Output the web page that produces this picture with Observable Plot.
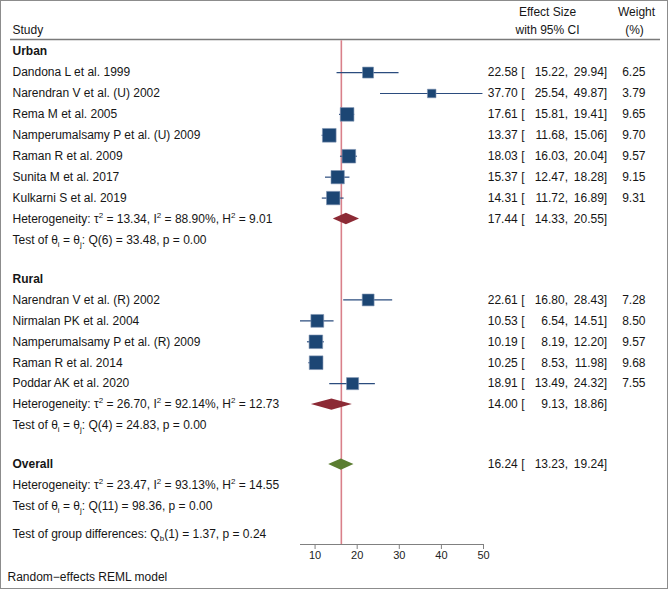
<!DOCTYPE html>
<html><head><meta charset="utf-8">
<script src="https://cdn.jsdelivr.net/npm/d3@7"></script>
<script src="https://cdn.jsdelivr.net/npm/@observablehq/plot@0.6"></script>
<style>
body{margin:0;background:#fff;}
#wrap{position:relative;width:668px;height:589px;overflow:hidden;}
#border{position:absolute;left:0;top:0;width:668px;height:589px;box-sizing:border-box;border:1px solid #8c8c8c;pointer-events:none;}
#wrap svg{display:block;}
</style></head><body>
<div id="wrap"><div id="border"></div></div>
<script>
// ---------- data ----------
const urbanStudies = ["Dandona L et al. 1999","Narendran V et al. (U) 2002","Rema M et al. 2005","Namperumalsamy P et al. (U) 2009","Raman R et al. 2009","Sunita M et al. 2017","Kulkarni S et al. 2019"];
const urbanES = [22.58,37.70,17.61,13.37,18.03,15.37,14.31];
const urbanLo = [15.22,25.54,15.81,11.68,16.03,12.47,11.72];
const urbanHi = [29.94,49.87,19.41,15.06,20.04,18.28,16.89];
const urbanW  = [6.25,3.79,9.65,9.70,9.57,9.15,9.31];

const ruralStudies = ["Narendran V et al. (R) 2002","Nirmalan PK et al. 2004","Namperumalsamy P et al. (R) 2009","Raman R et al. 2014","Poddar AK et al. 2020"];
const ruralES = [22.61,10.53,10.19,10.25,18.91];
const ruralLo = [16.80,6.54,8.19,8.53,13.49];
const ruralHi = [28.43,14.51,12.20,11.98,24.32];
const ruralW  = [7.28,8.50,9.57,9.68,7.55];

const groupNames = ["Urban","Rural","Overall"];
const groupES  = [17.44,14.00,16.24];
const groupLo  = [14.33,9.13,13.23];
const groupHi  = [20.55,18.86,19.24];
const groupTau2 = [13.34,26.70,23.47];
const groupI2   = [88.90,92.14,93.13];
const groupH2   = [9.01,12.73,14.55];
const groupQdf  = [6,4,11];
const groupQ    = [33.48,24.83,98.36];
const groupP    = [0.00,0.00,0.00];

const diffDf = 1, diffQ = 1.37, diffP = 0.24;
const xTicks = [10,20,30,40,50];
const headerStudy = "Study";
const headerES = ["Effect Size","with 95% CI"];
const headerW = ["Weight","(%)"];
const footnote = "Random\u2212effects REML model";

// ---------- layout (row units) ----------
const fmt = v => v.toFixed(2);
const GAP = 1.87;
const studyRows = [], sumRows = [], leftRows = [];
const groupStudies = [
  {names: urbanStudies, es: urbanES, lo: urbanLo, hi: urbanHi, w: urbanW},
  {names: ruralStudies, es: ruralES, lo: ruralLo, hi: ruralHi, w: ruralW},
  null
];
let r = 0;
groupNames.forEach((g, gi) => {
  leftRows.push({row: r, label: g, bold: true});
  const s = groupStudies[gi];
  let sumRow;
  if (s) {
    s.names.forEach((n, i) => {
      r += 1;
      leftRows.push({row: r, label: n});
      studyRows.push({row: r, es: s.es[i], lo: s.lo[i], hi: s.hi[i], w: s.w[i]});
    });
    r += 1; sumRow = r;
  } else {
    sumRow = r; r += 1;
  }
  sumRows.push({row: sumRow, es: groupES[gi], lo: groupLo[gi], hi: groupHi[gi], kind: gi < 2 ? "sub" : "overall"});
  leftRows.push({row: r, label: `Heterogeneity: \u03c4^{2} = ${fmt(groupTau2[gi])}, I^{2} = ${fmt(groupI2[gi])}%, H^{2} = ${fmt(groupH2[gi])}`});
  r += 1;
  leftRows.push({row: r, label: `Test of \u03b8_{i} = \u03b8_{j}: Q(${groupQdf[gi]}) = ${fmt(groupQ[gi])}, p = ${fmt(groupP[gi])}`});
  if (gi < groupNames.length - 1) r += GAP;
});
r += 1.31;
leftRows.push({row: r, label: `Test of group differences: Q_{b}(${diffDf}) = ${fmt(diffQ)}, p = ${fmt(diffP)}`});
const axisRow = r + 0.51;
const footRow = axisRow + 1.57;

const numRows = [...studyRows, ...sumRows];
const xMin = d3.min(numRows, d => d.lo);
const xMax = d3.max(xTicks);

// diamonds
const H = 0.27;
const diamondColor = {sub: "#8c2a35", overall: "#5b7d31"};
const diamonds = sumRows.map(d => Plot.areaY([
  {x: d.lo, y1: d.row, y2: d.row},
  {x: d.es, y1: d.row - H, y2: d.row + H},
  {x: d.hi, y1: d.row, y2: d.row}
], {x: "x", y1: "y1", y2: "y2", fill: diamondColor[d.kind], curve: "linear"}));

const txt = {fontSize: 12, fill: "#161616"};
const overallES = groupES[groupES.length - 1];

const chart = Plot.plot({
  width: 668, height: 589,
  marginLeft: 300, marginRight: 185, marginTop: 9.3, marginBottom: 45,
  style: {fontFamily: '"Liberation Sans", Arial, Helvetica, sans-serif', fontSize: "12px", background: "transparent"},
  x: {domain: [xMin, xMax]},
  y: {domain: [-2, axisRow], reverse: true, axis: null},
  r: {type: "sqrt", domain: [0, 10], range: [0, 7.85]},
  marks: [
    Plot.ruleY([-0.58], {insetLeft: -290, insetRight: -177, stroke: "#7a7a7a", strokeWidth: 1.3}),
    Plot.ruleX([overallES], {y1: -0.52, y2: axisRow, stroke: "#d9808a", strokeWidth: 1.6}),
    Plot.ruleY(studyRows, {y: "row", x1: "lo", x2: "hi", stroke: "#2b4c7e", strokeWidth: 1.2}),
    Plot.dot(studyRows, {x: "es", y: "row", r: "w", symbol: "square", fill: "#1c4674", stroke: "#8196b4", strokeWidth: 0.6}),
    ...diamonds,
    Plot.ruleY([axisRow], {x1: xMin, x2: xMax, stroke: "#808080", strokeWidth: 1}),
    Plot.axisX({ticks: xTicks, tickSize: 5, tickPadding: 2, fontSize: 11, stroke: "#808080", fill: "#222", label: null}),
    // header
    Plot.text([headerStudy], {y: -1.05, text: d => d, frameAnchor: "left", dx: -288, textAnchor: "start", ...txt}),
    Plot.text([headerES[0]], {y: -1.87, text: d => d, frameAnchor: "right", dx: 64, textAnchor: "middle", ...txt}),
    Plot.text([headerES[1]], {y: -1.05, text: d => d, frameAnchor: "right", dx: 64, textAnchor: "middle", ...txt}),
    Plot.text([headerW[0]], {y: -1.87, text: d => d, frameAnchor: "right", dx: 153, textAnchor: "middle", ...txt}),
    Plot.text([headerW[1]], {y: -1.05, text: d => d, frameAnchor: "right", dx: 151, textAnchor: "middle", ...txt}),
    // left labels
    Plot.text(leftRows.filter(d => !d.bold), {y: "row", text: "label", frameAnchor: "left", dx: -288, textAnchor: "start", ...txt}),
    Plot.text(leftRows.filter(d => d.bold), {y: "row", text: "label", frameAnchor: "left", dx: -288, textAnchor: "start", fontWeight: "bold", ...txt}),
    // numeric columns
    Plot.text(numRows, {y: "row", text: d => fmt(d.es), frameAnchor: "right", dx: 34.3, textAnchor: "end", ...txt}),
    Plot.text(numRows, {y: "row", text: d => "[", frameAnchor: "right", dx: 37.7, textAnchor: "start", ...txt}),
    Plot.text(numRows, {y: "row", text: d => fmt(d.lo) + ",", frameAnchor: "right", dx: 84.5, textAnchor: "end", ...txt}),
    Plot.text(numRows, {y: "row", text: d => fmt(d.hi) + "]", frameAnchor: "right", dx: 123.7, textAnchor: "end", ...txt}),
    Plot.text(studyRows, {y: "row", text: d => fmt(d.w), frameAnchor: "right", dx: 162, textAnchor: "end", ...txt}),
    // footnote
    Plot.text([footnote], {y: footRow, text: d => d, frameAnchor: "left", dx: -293, textAnchor: "start", ...txt})
  ]
});

// rich text: ^{..} superscript, _{..} subscript
const NS = "http://www.w3.org/2000/svg";
chart.querySelectorAll("text").forEach(t => {
  const s = t.textContent;
  if (!/[\^_]\{/.test(s)) return;
  while (t.firstChild) t.removeChild(t.firstChild);
  const re = /([\^_])\{([^}]*)\}/g;
  let last = 0, m, off = 0;
  const add = (str, dy, size) => {
    const ts = document.createElementNS(NS, "tspan");
    if (dy) ts.setAttribute("dy", dy);
    if (size) ts.setAttribute("font-size", size);
    ts.textContent = str;
    t.appendChild(ts);
  };
  while ((m = re.exec(s))) {
    add(s.slice(last, m.index), -off || null, null); off = 0;
    const d = m[1] === "^" ? -5 : 3;
    add(m[2], d, 8); off = d;
    last = re.lastIndex;
  }
  add(s.slice(last), -off || null, null);
});

document.getElementById("wrap").appendChild(chart);
</script>
</body></html>
